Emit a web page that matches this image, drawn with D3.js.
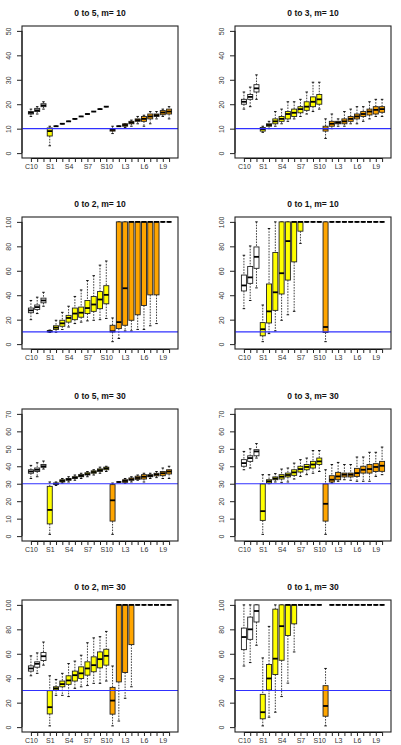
<!DOCTYPE html>
<html>
<head>
<meta charset="utf-8">
<script src="https://cdn.jsdelivr.net/npm/d3@7"></script>
<style>
  body { margin: 0; background: #fff; }
  svg { display: block; }
  .ejes text { font-family: "Liberation Sans", Arial, sans-serif; font-size: 7px; fill: #333; }
  .titulo { font-family: "Liberation Sans", Arial, sans-serif; font-size: 8.5px; font-weight: bold; fill: #111; }
</style>
</head>
<body>
<div id="graf"></div>
<script>
// categorias (solo se ve una etiqueta de cada tres)
const categorias = ["C10","C20","C30",
  "S1","S2","S3","S4","S5","S6","S7","S8","S9","S10",
  "L1","L2","L3","L4","L5","L6","L7","L8","L9","L10"]

const titulos = ["0 to 5, m= 10","0 to 3, m= 10","0 to 2, m= 10","0 to 1, m= 10",
  "0 to 5, m= 30","0 to 3, m= 30","0 to 2, m= 30","0 to 1, m= 30"]
const lineaM = [10,10,10,10,30,30,30,30]
const yMax = [50,50,100,100,70,70,100,100]
const yPaso = [10,10,20,20,10,10,20,20]

// [bigote inf, q1, mediana, q3, bigote sup] por categoria
const cajas_5_m10 = [
  [15,16,16.5,17,18],[16,17,17.5,18.3,19],[18,19,19.5,20.2,21],
  [3,7,9,10.3,11],[11,11,11,11,11],[12,12,12,12,12],[13,13,13,13,13],[14,14,14,14,14],
  [15,15,15,15,15],[16,16,16,16,16],[17,17,17,17,17],[18,18,18,18,18],[19,19,19,19,19],
  [8,9,9.5,10,11],[11,11,11,11,11],[10.5,11,11.5,12,12],[11,12,12.5,13,13.5],[12,13,13.5,14,15],
  [11,13,14,15,15.5],[12,14,15,16,17],[14,15,15.5,16,17],[15,15.7,16.6,17.4,18],[14,16,17,18,19]]
const cajas_3_m10 = [
  [18,20,21,22,25],[19,22,23,24,27],[22,25,26.5,28,32],
  [8.5,9,9.8,10.5,11],[10,11,11.5,12,13],[11,12,13,14,17],[12,13,14,15,18],[13,14,16,17,21],
  [14,15,16.5,18,21],[15,16.5,18,19,22],[16,17.5,19,21,25],[17,19,21,23,29],[18,20,22,24,29],
  [6,9,10,11,14],[10,11,12,13,16],[11,12,12.5,13,14],[11,12,13,14,17],[12,13,14,15,18],
  [12,14,15,16,19],[13,15,16,17,19],[14,15.6,17,18,21],[15,16,17.7,19,22],[15,16.7,18,19,22]]
const cajas_2_m10 = [
  [20,25.7,27.6,29.5,35.7],[25,28.4,30.3,32,38.4],[31,33.8,35.7,37.6,42.4],
  [9.5,10,10.5,11,11.5],[9.7,12,13.5,15,19.5],[12,14.6,17,19.5,26],[14,18,21.4,23.5,31],[16.8,20,25,29.5,39],
  [18,22,25.7,30.3,44.3],[19,25,29.5,35.7,52],[19.5,26.8,32.4,39,56],[20,29,36.5,43,64.6],[21,33,40.3,47.8,68],
  [2,10,10.5,15.4,21.4],[4.6,12.7,18,100,100],[10.8,15.4,45.7,100,100],[10.8,19.5,100,100,100],[12,24,100,100,100],
  [12,31.6,100,100,100],[15,40.3,100,100,100],[16.8,40.3,100,100,100],[100,100,100,100,100],[100,100,100,100,100]]
const cajas_1_m10 = [
  [29,43.5,48,56.5,72.7],[35.7,49.7,54.6,63.5,80.3],[46,62,71.4,79.5,100],
  [2,6.8,12.2,17.6,32],[8.6,17.3,26.8,49.2,94.6],[10.8,27.6,42.4,75,100],[19.5,41,58,100,100],[24,52.4,84.3,100,100],
  [26.8,67.3,100,100,100],[82.4,92.4,100,100,100],[100,100,100,100,100],[100,100,100,100,100],[100,100,100,100,100],
  [2,9.5,14,100,100],[100,100,100,100,100],[100,100,100,100,100],[100,100,100,100,100],[100,100,100,100,100],
  [100,100,100,100,100],[100,100,100,100,100],[100,100,100,100,100],[100,100,100,100,100],[100,100,100,100,100]]
const cajas_5_m30 = [
  [33,36,37,38,40.5],[34,37,38,39,42],[38.4,39.4,40,41,43],
  [1,7,15,28.5,31],[29,29.7,30,30.4,31],[30.4,31,31.6,32.3,33],[31,32,32.5,33,34],[32,33,33.5,34,35],
  [33,34,34.5,35.3,36],[34,35,35.5,36.3,37],[35,36,36.7,37.4,38],[36,37,37.8,38.5,39.5],[37,38,38.8,39.5,40],
  [1,8.6,20.5,29.5,30.4],[31,31,31,31,31],[30.2,30.8,31.6,32.3,33],[31,32,32.5,33.3,34],[32,32.5,33.3,34.3,35],
  [31,32.7,34,35.2,36],[33,34,34.5,35.2,36],[33.5,34.5,35.3,36,37],[33,34.6,36,37,39],[33,35.6,37,38,40]]
const cajas_3_m30 = [
  [38,40,41.8,43.8,48.5],[39,42.8,44.7,46,50],[44.7,46,48.5,49.5,53],
  [1,9,14.3,29.9,35.2],[30,30.4,31.4,32.3,35.2],[31,32.3,33,33.9,35.8],[30.8,32.7,34,35.2,38.4],[31,33.9,35,36.1,39],
  [32.7,34.8,36.5,38,41.8],[34.2,36.7,38.4,40,43.8],[35.2,38,39.6,41,44.7],[36,39,41,42.8,49],[37,41,42.8,44.7,49],
  [1,8.6,18.5,29.9,38],[30.5,31,32.3,34.6,41],[31.4,32.3,34.2,36.5,42.2],[32.3,33.9,35.2,36.1,41],[32,33.9,35.2,36.1,41],
  [31.4,34.2,36.1,38.8,45.3],[31.4,36.1,38,40,45.3],[31.4,36.1,38.4,41,48],[34.2,37,39.6,41.5,48],[35.2,37.1,40.3,42.8,51]]
const cajas_2_m30 = [
  [42,45.8,48,50.1,58.3],[44,49,51.8,53.4,60.7],[50.7,54.5,58,61,69.6],
  [1,10.8,16.3,29.8,42],[26,30.4,31.7,33,39],[26,33,35.2,37.7,44],[25,35,38.2,42,52],[31.7,37.7,42.5,45.8,54],
  [33,39.8,44,49.3,58.8],[34,42.5,48,53.4,69],[35.8,45.3,50.7,57.5,73],[35.8,48.5,55.6,61.5,74],[37.7,50.7,58.3,63.7,78.3],
  [1,10.6,21.7,32.5,50],[5,37,100,100,100],[23.6,44.7,100,100,100],[33,67.5,100,100,100],[100,100,100,100,100],
  [100,100,100,100,100],[100,100,100,100,100],[100,100,100,100,100],[100,100,100,100,100],[100,100,100,100,100]]
const cajas_1_m30 = [
  [50,63.4,73.7,81,100],[52.8,71.8,80,90,100],[67,86,95,100,100],
  [1,6.8,12.2,26.8,56.6],[8.1,30.4,39.8,51.2,82.4],[12.2,43,56,96.5,100],[25,54.7,82.6,100,100],[36,75,100,100,100],
  [61.5,84.5,100,100,100],[100,100,100,100,100],[100,100,100,100,100],[100,100,100,100,100],[100,100,100,100,100],
  [1,8.9,17.3,33.9,48],[100,100,100,100,100],[100,100,100,100,100],[100,100,100,100,100],[100,100,100,100,100],
  [100,100,100,100,100],[100,100,100,100,100],[100,100,100,100,100],[100,100,100,100,100],[100,100,100,100,100]]

const todasCajas = [cajas_5_m10, cajas_3_m10, cajas_2_m10, cajas_1_m10,
  cajas_5_m30, cajas_3_m30, cajas_2_m30, cajas_1_m30]

const anchoTotal = 401
const altoTotal = 745
const colX = [22, 235]
const filaY = [26, 217, 409, 600]
const ancho = 156
const alto = 132

const relleno = (c) => c[0] === "C" ? "#ffffff" : c[0] === "S" ? "#ffff00" : "#ffa500"

const svg = d3.select("#graf")
  .append("svg")
  .attr("width", anchoTotal)
  .attr("height", altoTotal)

const x = d3.scalePoint().domain(categorias).range([0, ancho]).padding(1.42)
const anchoCaja = x.step() * 0.8

todasCajas.forEach((datos, i) => {
  const g = svg.append("g")
    .attr("transform", `translate(${colX[i % 2]}, ${filaY[Math.floor(i / 2)]})`)

  const y = d3.scaleLinear()
    .domain([-0.04 * yMax[i], 1.04 * yMax[i]])
    .range([alto, 0])

  // titulo
  g.append("text")
    .attr("class", "titulo")
    .attr("x", ancho / 2)
    .attr("y", -12.7)
    .attr("dominant-baseline", "central")
    .attr("text-anchor", "middle")
    .text(titulos[i])

  // eje x
  const ejeX = g.append("g")
    .attr("class", "ejes")
    .attr("transform", `translate(0, ${alto})`)
    .call(d3.axisBottom(x).tickSize(4).tickPadding(2.5)
      .tickFormat((d, k) => k % 3 === 0 ? d : ""))
  ejeX.select(".domain")
    .attr("d", `M${x(categorias[0])},0.5H${x(categorias[categorias.length - 1])}`)
  ejeX.selectAll("line").attr("stroke", "#222")

  // eje y
  const ejeY = g.append("g")
    .attr("class", "ejes")
    .call(d3.axisLeft(y).tickValues(d3.range(0, yMax[i] + 1, yPaso[i])).tickSize(5))
  ejeY.select(".domain")
    .attr("d", `M0,${y(0)}V${y(yMax[i])}`)
  ejeY.selectAll("line").attr("stroke", "#222")
  ejeY.selectAll("text")
    .attr("transform", "rotate(-90)")
    .attr("x", 0)
    .attr("y", -11.5)
    .attr("dy", 0)
    .attr("text-anchor", "middle")

  const cajas = g.selectAll("g.caja")
    .data(datos)
    .enter()
    .append("g")
    .attr("class", "caja")
    .attr("transform", (d, k) => `translate(${x(categorias[k])}, 0)`)

  // bigotes punteados
  cajas.append("line")
    .attr("y1", (d) => y(d[4])).attr("y2", (d) => y(d[3]))
    .attr("stroke", "#111").attr("stroke-width", 0.8).attr("stroke-dasharray", "1.6,1.2")
  cajas.append("line")
    .attr("y1", (d) => y(d[1])).attr("y2", (d) => y(d[0]))
    .attr("stroke", "#111").attr("stroke-width", 0.8).attr("stroke-dasharray", "1.6,1.2")
  // topes
  cajas.selectAll("line.tope")
    .data((d) => [d[0], d[4]])
    .enter()
    .append("line")
    .attr("class", "tope")
    .attr("x1", -anchoCaja / 4).attr("x2", anchoCaja / 4)
    .attr("y1", (v) => y(v)).attr("y2", (v) => y(v))
    .attr("stroke", "#111").attr("stroke-width", 1)

  cajas.append("rect")
    .attr("x", -anchoCaja / 2)
    .attr("width", anchoCaja)
    .attr("y", (d) => y(d[3]))
    .attr("height", (d) => y(d[1]) - y(d[3]))
    .attr("fill", (d, k) => relleno(categorias[k]))
    .attr("stroke", "#222")
    .attr("stroke-width", 0.9)

  cajas.append("line")
    .attr("x1", -anchoCaja / 2).attr("x2", anchoCaja / 2)
    .attr("y1", (d) => y(d[2])).attr("y2", (d) => y(d[2]))
    .attr("stroke", "#000").attr("stroke-width", 1.8)

  // linea m
  g.append("line")
    .attr("x1", 0).attr("x2", ancho)
    .attr("y1", y(lineaM[i])).attr("y2", y(lineaM[i]))
    .attr("stroke", "#3030ff").attr("stroke-width", 1.1)

  // marco
  g.append("rect")
    .attr("width", ancho).attr("height", alto)
    .attr("fill", "none").attr("stroke", "#222").attr("stroke-width", 1.1)
})
</script>
</body>
</html>
